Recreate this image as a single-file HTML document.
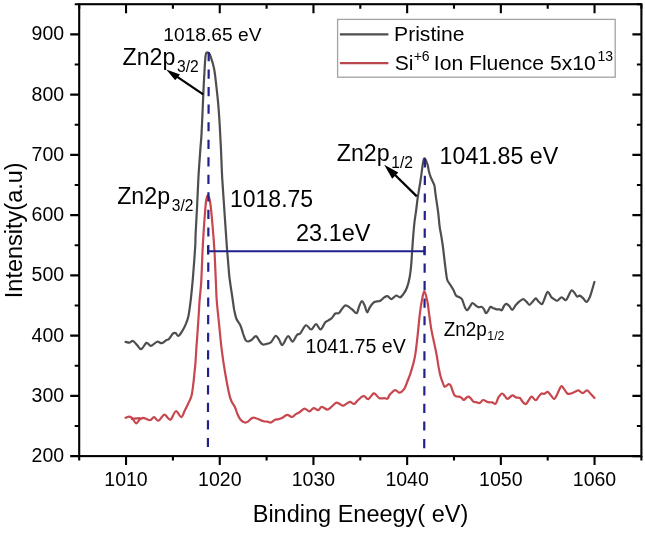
<!DOCTYPE html>
<html><head><meta charset="utf-8"><style>
html,body{margin:0;padding:0;background:#fff;}
svg{display:block;filter:blur(0.3px);}
text{font-family:"Liberation Sans",sans-serif;fill:#000;}
</style></head><body>
<svg width="645" height="533" viewBox="0 0 645 533">
<rect width="645" height="533" fill="#fff"/>
<path d="M125.6,341.9C126.3,342.0 128.4,342.8 129.6,342.6C130.8,342.5 131.7,340.6 132.9,341.0C134.1,341.4 135.5,343.5 136.9,344.9C138.3,346.3 139.6,349.5 141.2,349.2C142.8,348.9 144.9,343.5 146.5,342.9C148.1,342.3 149.2,346.0 151.0,345.8C152.8,345.6 155.3,342.1 157.1,341.7C158.9,341.3 160.2,343.4 161.7,343.2C163.2,342.9 165.0,340.9 166.2,340.2C167.4,339.5 167.9,340.1 169.0,339.0C170.1,337.9 171.8,334.6 172.9,333.6C174.0,332.6 174.7,332.7 175.6,333.1C176.5,333.5 177.3,336.3 178.4,336.0C179.5,335.7 180.9,333.3 182.2,331.2C183.4,329.2 184.9,326.2 185.9,323.8C186.9,321.2 187.6,320.0 188.4,316.2C189.2,312.5 189.9,306.9 190.6,301.2C191.3,295.6 191.9,288.8 192.5,282.5C193.1,276.2 193.5,270.0 194.0,263.8C194.5,257.5 195.0,249.9 195.3,245.0C195.6,240.1 195.3,240.9 195.6,234.4C195.9,227.9 196.6,215.6 197.1,206.2C197.6,196.9 197.9,187.5 198.4,178.1C198.9,168.7 199.8,157.3 200.3,150.0C200.8,142.7 201.1,141.7 201.5,134.4C201.9,127.1 202.4,115.6 202.8,106.2C203.2,96.9 203.6,86.5 204.1,78.1C204.6,69.7 205.0,59.9 205.6,55.6C206.2,51.4 207.1,52.6 207.9,52.6C208.7,52.6 209.3,52.9 210.3,55.6C211.3,58.3 213.1,63.4 214.1,68.8C215.1,74.1 215.8,81.2 216.5,87.5C217.2,93.8 217.9,100.0 218.4,106.2C218.9,112.5 219.3,117.7 219.7,125.0C220.1,132.3 220.6,141.2 221.0,150.0C221.4,158.8 221.7,168.7 222.2,178.1C222.8,187.5 223.5,196.9 224.1,206.2C224.7,215.6 225.5,227.1 226.0,234.4C226.5,241.7 226.6,243.8 227.1,250.0C227.6,256.2 228.5,266.5 228.9,271.5C229.3,276.5 229.2,276.1 229.8,280.0C230.3,283.9 231.2,290.0 232.0,295.0C232.8,300.0 233.5,306.0 234.2,310.0C235.0,314.0 235.5,316.5 236.5,319.0C237.5,321.5 239.1,322.5 240.2,325.0C241.4,327.5 242.4,331.5 243.2,334.0C244.1,336.5 244.8,338.8 245.5,340.0C246.2,341.2 246.8,341.5 247.8,341.5C248.8,341.5 250.1,340.9 251.5,340.0C252.9,339.1 254.6,336.0 256.0,336.2C257.4,336.5 258.6,340.1 259.8,341.5C260.9,342.9 261.6,344.1 262.8,344.5C263.9,344.9 265.1,344.1 266.5,343.8C267.9,343.4 269.5,343.6 271.0,342.2C272.5,340.9 274.3,336.3 275.6,335.8C276.9,335.3 277.9,337.9 279.0,339.4C280.1,340.9 280.9,345.5 282.4,345.0C283.9,344.5 286.3,336.8 288.0,336.2C289.7,335.6 291.0,341.8 292.5,341.6C294.0,341.4 295.7,336.3 297.0,334.9C298.3,333.5 298.9,334.8 300.4,333.2C301.9,331.6 304.2,325.9 306.0,325.3C307.8,324.7 309.4,329.7 311.1,329.5C312.8,329.3 314.5,324.2 316.1,324.2C317.7,324.2 319.1,329.8 320.6,329.5C322.1,329.2 323.8,324.0 325.1,322.5C326.4,321.0 327.4,321.1 328.5,320.3C329.6,319.6 330.8,319.1 331.9,318.0C333.0,316.9 334.1,314.3 335.3,313.5C336.5,312.7 337.8,314.0 338.9,313.2C340.0,312.4 341.1,309.9 342.2,308.6C343.3,307.3 344.3,305.5 345.5,305.3C346.7,305.1 348.2,306.5 349.4,307.3C350.6,308.1 351.5,308.9 352.7,309.9C353.9,310.9 355.6,313.8 356.7,313.2C357.8,312.6 358.4,308.0 359.3,306.0C360.2,304.0 361.0,301.1 361.9,301.0C362.8,300.9 363.7,303.4 364.6,305.3C365.5,307.2 366.3,312.0 367.2,312.3C368.1,312.6 368.7,309.0 369.8,307.3C370.9,305.6 372.6,303.3 373.8,302.3C375.0,301.3 375.9,301.7 377.0,301.4C378.1,301.1 379.1,301.4 380.3,300.7C381.5,300.0 383.1,298.2 384.3,297.4C385.5,296.6 386.3,295.8 387.5,296.1C388.7,296.4 390.1,299.2 391.5,299.1C392.9,299.0 394.7,295.8 396.1,295.5C397.5,295.2 398.8,297.6 400.0,297.4C401.2,297.2 402.1,295.8 403.3,294.2C404.5,292.6 405.9,290.4 407.0,287.5C408.1,284.6 409.0,280.8 409.7,277.0C410.4,273.2 410.8,269.5 411.2,265.0C411.6,260.5 411.9,255.0 412.2,250.0C412.6,245.0 412.9,239.7 413.3,235.0C413.7,230.3 414.1,225.7 414.5,222.0C414.9,218.3 415.4,215.7 415.8,212.9C416.2,210.1 416.5,207.6 416.8,205.0C417.1,202.4 417.4,199.7 417.8,197.1C418.2,194.5 418.7,191.8 419.1,189.2C419.5,186.6 420.0,184.2 420.4,181.3C420.8,178.5 421.3,175.2 421.7,172.1C422.1,169.0 422.5,165.2 423.0,162.9C423.5,160.6 423.8,158.0 424.6,158.3C425.4,158.6 426.9,162.7 427.6,164.8C428.3,166.9 428.3,169.0 428.8,170.9C429.3,172.8 429.7,174.5 430.4,176.3C431.1,178.1 432.1,180.3 432.8,181.8C433.5,183.3 434.0,183.9 434.4,185.5C434.8,187.1 434.9,189.4 435.2,191.6C435.5,193.8 435.8,196.5 436.2,198.9C436.6,201.3 436.9,203.8 437.3,206.2C437.7,208.6 437.9,210.2 438.3,213.5C438.7,216.8 439.1,222.5 439.6,226.3C440.1,230.1 440.7,232.6 441.3,236.1C441.9,239.6 442.5,243.4 443.0,247.4C443.5,251.4 444.0,256.1 444.5,260.1C445.0,264.1 445.4,268.0 445.9,271.3C446.3,274.6 446.6,277.7 447.2,279.8C447.8,281.9 448.7,282.4 449.7,284.0C450.7,285.6 452.1,287.6 453.2,289.5C454.2,291.4 455.0,294.2 456.0,295.5C457.0,296.8 458.0,296.4 459.0,297.0C460.0,297.6 461.0,297.6 462.0,299.3C463.0,301.1 464.1,305.7 465.0,307.5C465.9,309.3 466.4,310.4 467.3,310.2C468.2,309.9 469.4,307.2 470.3,306.0C471.2,304.8 471.6,303.1 472.5,303.0C473.4,302.9 474.5,304.6 475.5,305.3C476.5,306.0 477.5,306.9 478.5,307.2C479.5,307.4 480.6,306.5 481.5,306.8C482.4,307.1 483.1,307.9 483.8,309.0C484.6,310.1 485.2,312.9 486.0,313.2C486.8,313.4 487.6,311.6 488.3,310.5C489.1,309.4 489.6,307.2 490.5,306.8C491.4,306.4 492.5,307.9 493.5,308.3C494.5,308.7 495.5,309.1 496.5,309.3C497.5,309.5 498.6,309.2 499.5,309.3C500.4,309.4 501.1,310.8 501.8,310.2C502.6,309.6 503.2,307.1 504.0,306.0C504.8,304.9 505.4,303.8 506.3,303.8C507.2,303.8 508.3,305.0 509.3,306.0C510.3,307.0 511.2,309.9 512.3,309.8C513.3,309.7 514.4,306.7 515.6,305.3C516.9,303.9 518.5,302.2 519.8,301.2C521.1,300.2 522.1,299.0 523.3,299.1C524.4,299.2 525.7,300.9 526.7,301.9C527.7,302.9 528.5,305.0 529.5,304.9C530.5,304.8 532.0,302.3 533.0,301.2C534.0,300.1 534.9,298.3 535.8,298.4C536.7,298.5 537.5,300.7 538.6,301.6C539.7,302.5 541.1,304.6 542.1,304.0C543.1,303.4 544.0,299.7 544.9,297.7C545.8,295.7 546.7,291.9 547.7,291.8C548.8,291.7 550.2,295.8 551.2,297.0C552.2,298.2 553.0,298.5 554.0,299.1C555.0,299.7 556.1,301.0 557.4,300.7C558.7,300.4 560.2,297.5 561.6,297.4C563.0,297.3 564.6,300.5 565.8,300.2C567.0,299.9 567.7,297.2 568.6,295.6C569.5,294.0 570.5,290.9 571.4,290.4C572.3,289.9 573.3,291.4 574.2,292.4C575.1,293.4 576.1,296.1 577.0,296.6C577.9,297.1 578.8,295.3 579.8,295.6C580.8,295.9 582.2,297.3 583.3,298.4C584.4,299.4 585.5,302.0 586.5,301.9C587.5,301.8 588.5,299.8 589.5,297.7C590.5,295.6 591.5,291.9 592.3,289.3C593.1,286.7 594.0,283.2 594.4,282.0" fill="none" stroke="#4e4e4e" stroke-width="2.2" stroke-linejoin="round" stroke-linecap="round"/>
<path d="M125.6,417.8C126.2,417.6 128.2,416.5 129.3,416.6C130.4,416.7 131.3,417.3 132.4,418.4C133.5,419.5 134.9,423.2 136.1,423.4C137.3,423.6 138.7,420.3 139.8,419.4C141.0,418.5 141.8,417.9 143.0,417.8C144.2,417.8 145.5,418.7 146.7,419.1C147.9,419.5 149.2,420.3 150.4,420.0C151.6,419.7 152.8,417.1 154.1,417.2C155.4,417.3 156.8,421.1 158.4,420.7C160.1,420.3 162.4,415.2 164.0,414.7C165.6,414.2 166.7,417.0 167.8,417.8C169.0,418.6 169.6,420.5 170.9,419.4C172.2,418.3 174.2,411.6 175.9,411.2C177.6,410.8 179.7,417.2 181.2,417.1C182.7,417.0 183.6,412.7 184.8,410.4C186.0,408.1 187.3,405.6 188.4,403.2C189.5,400.8 190.7,398.8 191.4,396.1C192.2,393.4 192.4,390.7 192.9,387.1C193.4,383.5 193.9,378.8 194.3,374.6C194.7,370.4 195.2,366.6 195.5,362.1C195.8,357.7 196.1,352.3 196.4,347.9C196.7,343.4 197.0,340.4 197.3,335.4C197.7,330.4 198.1,323.9 198.5,318.0C198.9,312.1 199.2,305.9 199.6,300.0C200.0,294.1 200.7,290.6 201.2,282.3C201.7,274.0 202.1,259.6 202.6,250.0C203.1,240.4 203.5,232.9 204.1,225.0C204.7,217.1 205.3,207.4 205.9,202.5C206.5,197.6 207.1,195.3 207.8,195.3C208.5,195.3 209.5,197.6 210.2,202.5C211.0,207.4 211.8,217.1 212.5,225.0C213.2,232.9 213.8,240.4 214.4,250.0C215.0,259.6 215.5,274.0 215.9,282.3C216.3,290.6 216.2,293.0 216.7,300.0C217.2,307.0 218.3,316.3 219.1,324.4C219.9,332.5 220.6,340.7 221.6,348.8C222.6,356.9 223.8,365.1 225.2,373.2C226.6,381.3 228.5,391.9 230.1,397.6C231.7,403.3 233.8,404.5 235.0,407.3C236.2,410.1 236.6,412.1 237.5,414.2C238.4,416.3 239.4,418.4 240.6,419.8C241.8,421.2 243.7,422.2 244.9,422.5C246.1,422.8 246.8,422.4 248.0,421.6C249.2,420.8 251.1,418.4 252.4,417.9C253.8,417.3 254.9,418.0 256.1,418.3C257.3,418.6 258.6,419.3 259.8,419.8C261.0,420.3 262.3,421.0 263.5,421.3C264.7,421.6 265.9,421.4 267.2,421.6C268.4,421.8 269.8,422.8 271.0,422.5C272.2,422.2 273.5,420.6 274.7,420.0C275.9,419.4 277.2,419.5 278.4,419.1C279.6,418.8 280.7,418.6 282.1,417.9C283.6,417.2 285.4,414.9 287.1,414.8C288.8,414.7 290.7,417.1 292.1,417.0C293.6,416.9 294.6,415.0 295.8,414.2C297.0,413.4 298.1,413.2 299.5,412.3C300.9,411.4 302.9,408.8 304.5,408.6C306.1,408.4 307.9,411.4 309.4,411.3C310.9,411.2 312.2,408.3 313.7,408.1C315.1,407.9 316.8,410.4 318.1,410.2C319.5,410.0 320.2,407.0 321.8,406.9C323.4,406.8 325.8,409.6 327.4,409.6C328.9,409.6 329.7,408.2 331.1,407.1C332.5,406.0 334.6,403.3 336.0,402.8C337.4,402.3 338.6,403.5 339.8,404.0C341.1,404.5 341.9,406.0 343.5,405.6C345.1,405.2 347.9,402.2 349.7,401.9C351.4,401.6 352.6,404.3 354.0,404.0C355.4,403.7 356.4,401.5 357.8,400.3C359.2,399.1 361.0,397.3 362.1,396.6C363.2,395.9 363.6,395.9 364.6,396.3C365.6,396.7 366.9,399.6 368.3,399.1C369.8,398.6 372.1,394.3 373.3,393.5C374.5,392.7 374.7,393.7 375.7,394.5C376.7,395.3 378.1,397.6 379.5,398.2C380.9,398.8 383.1,398.1 384.4,398.2C385.7,398.3 386.6,399.3 387.5,398.7C388.4,398.1 388.6,396.0 389.9,394.6C391.2,393.2 393.6,390.5 395.2,390.2C396.8,389.9 398.1,392.9 399.6,392.7C401.1,392.5 402.8,391.0 404.1,389.2C405.4,387.4 406.2,384.6 407.2,382.0C408.2,379.4 409.3,376.9 410.3,373.8C411.3,370.7 412.5,366.8 413.4,363.4C414.3,359.9 414.8,357.6 415.5,353.1C416.2,348.6 416.8,342.8 417.5,336.6C418.2,330.4 418.9,321.9 419.6,316.0C420.3,310.1 420.9,305.6 421.7,301.5C422.5,297.4 423.4,291.2 424.3,291.2C425.2,291.2 426.5,297.4 427.4,301.5C428.2,305.6 428.7,311.2 429.4,316.0C430.1,320.8 430.6,325.6 431.5,330.4C432.4,335.2 433.7,340.8 434.6,344.9C435.5,349.0 436.0,351.4 436.7,355.2C437.4,359.0 438.0,364.1 438.7,367.6C439.4,371.2 439.9,373.9 440.6,376.5C441.3,379.1 442.2,381.4 442.9,383.1C443.5,384.8 443.9,386.2 444.5,386.7C445.1,387.1 445.8,386.2 446.5,385.8C447.2,385.4 448.1,384.1 448.8,384.1C449.5,384.1 450.2,384.7 450.8,385.8C451.4,386.9 452.1,389.4 452.7,391.0C453.3,392.6 453.9,394.7 454.7,395.6C455.5,396.5 456.4,396.4 457.3,396.6C458.2,396.8 459.2,396.6 460.0,396.9C460.8,397.2 461.2,397.7 461.9,398.2C462.5,398.7 462.9,400.1 463.9,399.9C464.9,399.6 466.7,397.0 467.8,396.7C468.9,396.4 469.7,397.3 470.6,398.1C471.5,398.9 472.3,400.9 473.4,401.6C474.4,402.3 475.8,402.1 476.9,402.3C477.9,402.5 478.7,403.4 479.7,403.0C480.7,402.6 482.0,400.2 483.1,400.0C484.2,399.8 485.6,401.2 486.6,401.6C487.7,402.0 488.5,402.2 489.4,402.3C490.3,402.4 491.1,402.1 492.2,402.3C493.2,402.5 494.6,404.5 495.7,403.7C496.8,402.9 497.4,399.1 498.5,397.4C499.6,395.7 500.9,393.7 502.0,393.5C503.1,393.3 503.9,395.1 504.8,396.0C505.7,396.9 506.3,398.9 507.6,398.8C508.9,398.7 511.0,395.5 512.4,395.3C513.8,395.1 514.6,396.9 515.9,397.4C517.1,397.8 518.8,397.2 519.9,398.0C521.0,398.8 521.7,400.9 522.7,401.9C523.7,402.9 524.9,404.4 525.9,404.0C526.9,403.6 528.0,401.0 529.0,399.8C530.0,398.6 530.6,396.5 531.7,396.6C532.8,396.7 534.5,400.2 535.7,400.2C536.9,400.2 537.7,397.7 538.7,396.6C539.7,395.5 540.6,393.9 541.5,393.5C542.4,393.1 543.2,394.2 544.3,393.9C545.3,393.6 546.8,391.6 547.8,391.8C548.8,392.0 549.5,393.7 550.6,394.9C551.7,396.1 553.1,399.1 554.1,399.1C555.1,399.1 555.8,397.0 556.9,394.9C558.0,392.8 559.9,387.6 561.0,386.5C562.1,385.4 562.8,387.4 563.8,388.6C564.8,389.8 566.1,392.7 567.3,393.5C568.5,394.3 569.5,393.8 570.8,393.5C572.1,393.2 573.7,392.3 575.0,391.8C576.3,391.3 577.2,390.2 578.5,390.4C579.8,390.6 581.3,393.2 582.7,393.2C584.1,393.2 585.6,390.3 586.9,390.4C588.2,390.4 589.0,392.2 590.3,393.5C591.6,394.8 593.8,397.2 594.5,398.0" fill="none" stroke="#c8474e" stroke-width="2.2" stroke-linejoin="round" stroke-linecap="round"/>
<path d="M131,418.8 L140.5,418.2" stroke="#c8474e" stroke-width="2.2" fill="none"/>
<path d="M208.7,52L207.9,456" stroke="#22208a" stroke-width="2.2" stroke-dasharray="9.2 8.34" fill="none"/>
<path d="M424.9,158.3L424.2,456" stroke="#22208a" stroke-width="2.2" stroke-dasharray="9.2 8.34" fill="none"/>
<path d="M208,251.25H424.4 M208,246V254.5 M424.4,246.2V254.8" stroke="#22208a" stroke-width="2" fill="none"/>
<path d="M203.2,94.4 L171,72.6" stroke="#000" stroke-width="2.2" fill="none"/>
<path d="M166.2,69.5 L180,74.5 L175.2,80.3 Z" fill="#000"/>
<path d="M416.8,196.4 L390,170" stroke="#000" stroke-width="2.2" fill="none"/>
<path d="M384.2,164.7 L398.3,172.6 L392.2,178.7 Z" fill="#000"/>
<rect x="79.2" y="4.2" width="562.2" height="451.9" fill="none" stroke="#000" stroke-width="2.1"/>
<path d="M70.2,456.10H79.2M641.4,456.10H632.4M74.7,425.97H79.2M641.4,425.97H636.9M70.2,395.85H79.2M641.4,395.85H632.4M74.7,365.72H79.2M641.4,365.72H636.9M70.2,335.59H79.2M641.4,335.59H632.4M74.7,305.47H79.2M641.4,305.47H636.9M70.2,275.34H79.2M641.4,275.34H632.4M74.7,245.21H79.2M641.4,245.21H636.9M70.2,215.09H79.2M641.4,215.09H632.4M74.7,184.96H79.2M641.4,184.96H636.9M70.2,154.83H79.2M641.4,154.83H632.4M74.7,124.71H79.2M641.4,124.71H636.9M70.2,94.58H79.2M641.4,94.58H632.4M74.7,64.45H79.2M641.4,64.45H636.9M70.2,34.33H79.2M641.4,34.33H632.4M74.7,4.20H79.2M641.4,4.20H636.9M79.20,456.1V460.6M79.20,4.2V8.7M126.05,456.1V465.1M126.05,4.2V13.2M172.90,456.1V460.6M172.90,4.2V8.7M219.75,456.1V465.1M219.75,4.2V13.2M266.60,456.1V460.6M266.60,4.2V8.7M313.45,456.1V465.1M313.45,4.2V13.2M360.30,456.1V460.6M360.30,4.2V8.7M407.15,456.1V465.1M407.15,4.2V13.2M454.00,456.1V460.6M454.00,4.2V8.7M500.85,456.1V465.1M500.85,4.2V13.2M547.70,456.1V460.6M547.70,4.2V8.7M594.55,456.1V465.1M594.55,4.2V13.2M641.40,456.1V460.6M641.40,4.2V8.7" stroke="#000" stroke-width="2.1" fill="none"/>
<g font-size="19.5"><text x="64.1" y="462.0" text-anchor="end">200</text><text x="64.1" y="401.7" text-anchor="end">300</text><text x="64.1" y="341.5" text-anchor="end">400</text><text x="64.1" y="281.2" text-anchor="end">500</text><text x="64.1" y="221.0" text-anchor="end">600</text><text x="64.1" y="160.7" text-anchor="end">700</text><text x="64.1" y="100.5" text-anchor="end">800</text><text x="64.1" y="40.2" text-anchor="end">900</text><text x="126.0" y="486.2" text-anchor="middle">1010</text><text x="219.8" y="486.2" text-anchor="middle">1020</text><text x="313.4" y="486.2" text-anchor="middle">1030</text><text x="407.1" y="486.2" text-anchor="middle">1040</text><text x="500.8" y="486.2" text-anchor="middle">1050</text><text x="594.5" y="486.2" text-anchor="middle">1060</text></g>
<text x="360.5" y="522.2" font-size="23.5" text-anchor="middle">Binding Eneegy( eV)</text>
<text transform="translate(21.7,230.25) rotate(-90)" font-size="23.5" text-anchor="middle">Intensity(a.u)</text>
<rect x="337.6" y="19.4" width="277.6" height="57.8" fill="none" stroke="#a2a2a2" stroke-width="1.3"/>
<path d="M339.9,34.3H388.4" stroke="#4e4e4e" stroke-width="2.2"/>
<path d="M339.9,63.2H388.4" stroke="#b8484e" stroke-width="2.2"/>
<text x="394.1" y="41.3" font-size="21.1">Pristine</text>
<text y="70.0" font-size="21.1"><tspan x="394.8">Si</tspan><tspan x="413.7" y="61.1" font-size="14">+6</tspan><tspan x="433.85" y="70.0">Ion Fluence 5x10</tspan><tspan x="597.4" y="61.1" font-size="14">13</tspan></text>
<text x="163.3" y="40.5" font-size="19.2">1018.65 eV</text>
<text x="122.5" y="64.9" font-size="23.2">Zn2p<tspan font-size="15.6" dx="1.7" dy="6.8">3/2</tspan></text>
<text x="117.2" y="203.7" font-size="23.2">Zn2p<tspan font-size="15.6" dx="1.7" dy="6.8">3/2</tspan></text>
<text x="336.8" y="161" font-size="23.2">Zn2p<tspan font-size="15.6" dx="1.7" dy="6.8">1/2</tspan></text>
<g transform="translate(443.7,336.2) scale(1,1.07)"><text x="0" y="0" font-size="18.9">Zn2p<tspan font-size="12.3" dx="0.6" dy="3.7">1/2</tspan></text></g>
<text x="230" y="206.7" font-size="23">1018.75</text>
<text x="296" y="241.3" font-size="23.5">23.1eV</text>
<text x="439.6" y="163.6" font-size="23.2">1041.85 eV</text>
<text x="305.5" y="352.7" font-size="19.6">1041.75 eV</text>
</svg>
</body></html>
